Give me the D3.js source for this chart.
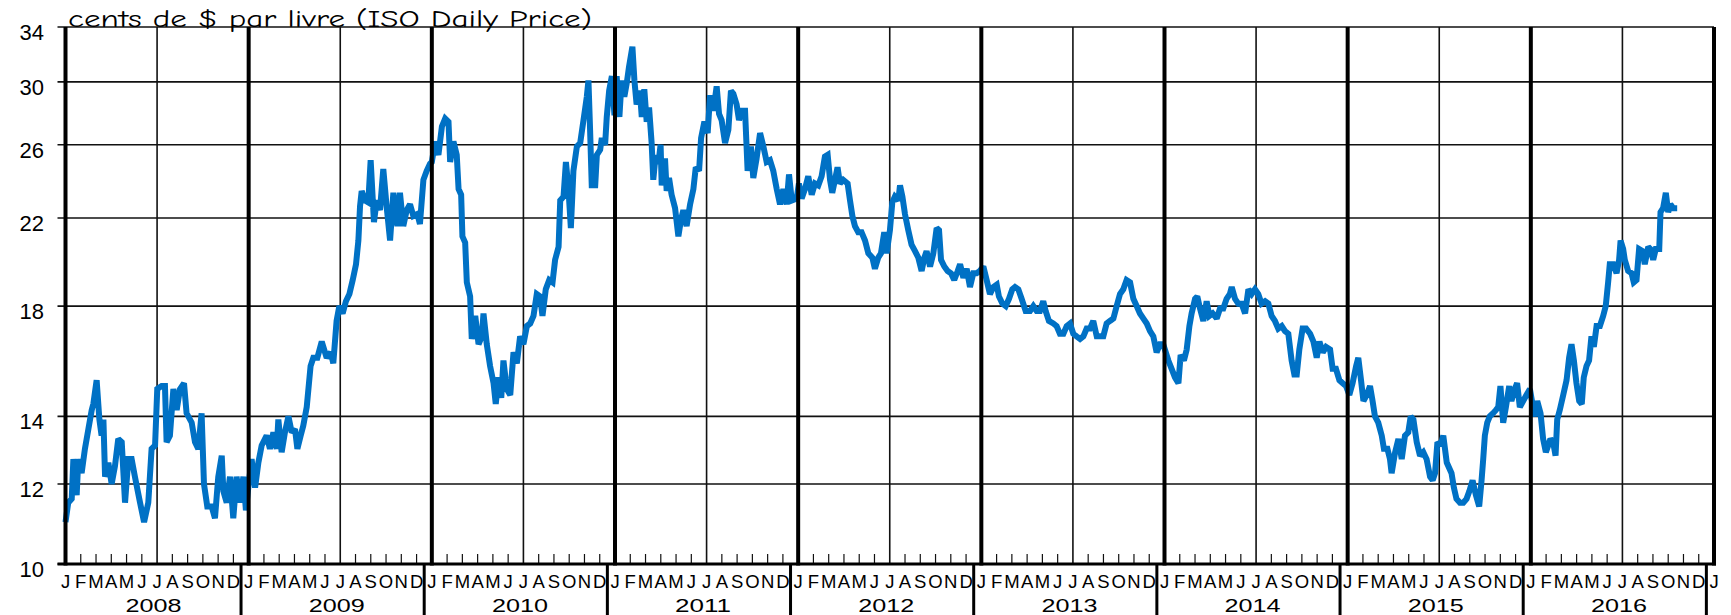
<!DOCTYPE html>
<html>
<head>
<meta charset="utf-8">
<script src="https://cdn.jsdelivr.net/npm/d3@7"></script>
<style>
  body { margin: 0; background: #fff; }
  svg { display: block; }
</style>
</head>
<body>
<svg id="chart" width="1731" height="615"></svg>
<script>
// ---------------- DATA ----------------
const titleText = "cents de $ par livre (ISO Daily Price)";
const yTicks = [10, 12, 14, 18, 22, 26, 30, 34];
const years = [2008, 2009, 2010, 2011, 2012, 2013, 2014, 2015, 2016];
const monthLetters = ["J", "F", "M", "A", "M", "J", "J", "A", "S", "O", "N", "D"];

// time as decimal year, price in US cents per lb
const t2008 = [2008.000,2008.015,2008.034,2008.043,2008.061,2008.070,2008.088,2008.106,2008.125,2008.143,2008.152,2008.170,2008.185,2008.197,2008.207,2008.216,2008.234,2008.252,2008.270,2008.288,2008.307,2008.325,2008.343,2008.361,2008.379,2008.407,2008.429,2008.452,2008.470,2008.489,2008.501,2008.525,2008.543,2008.552,2008.570,2008.589,2008.607,2008.625,2008.647,2008.661,2008.689,2008.707,2008.725,2008.743,2008.756,2008.774,2008.798,2008.816,2008.834,2008.853,2008.862,2008.880,2008.898,2008.916,2008.934,2008.953,2008.971,2008.985,2008.998];
const p2008 = [11.0,11.5,11.6,12.7,11.7,12.7,12.3,13.0,13.6,14.2,14.4,15.2,13.9,13.4,13.9,12.2,12.6,12.0,12.5,13.3,13.2,11.5,12.7,12.7,12.2,11.5,11.0,11.5,13.0,13.1,14.9,15.0,15.0,13.2,13.4,14.9,14.2,14.9,15.1,14.1,13.8,13.2,13.0,14.1,12.0,11.4,11.4,11.1,12.2,12.8,11.8,11.5,12.2,11.1,12.2,11.5,12.2,11.3,11.9];

const t2009 = [2009.016,2009.035,2009.053,2009.071,2009.098,2009.116,2009.135,2009.153,2009.162,2009.180,2009.198,2009.217,2009.235,2009.253,2009.266,2009.284,2009.298,2009.317,2009.338,2009.353,2009.375,2009.399,2009.426,2009.448,2009.462,2009.480,2009.495,2009.513,2009.531,2009.550,2009.568,2009.586,2009.599,2009.608,2009.617,2009.635,2009.653,2009.666,2009.684,2009.699,2009.717,2009.735,2009.753,2009.772,2009.790,2009.812,2009.826,2009.844,2009.863,2009.881,2009.899,2009.921,2009.935,2009.954,2009.972,2009.990];
const p2009 = [12.7,11.9,12.6,13.1,13.4,13.0,13.5,13.0,13.9,12.9,13.5,14.0,13.5,13.6,13.0,13.4,13.7,14.3,15.7,16.0,16.0,16.6,16.0,16.2,15.8,17.4,18.0,17.7,18.2,18.5,19.1,19.8,20.9,22.6,23.4,22.9,22.8,25.1,21.8,22.9,22.4,24.6,22.6,20.9,23.3,21.6,23.3,21.6,22.4,22.7,22.1,22.2,21.7,24.0,24.5,24.9];

const t2010 = [2010.000,2010.018,2010.036,2010.055,2010.073,2010.091,2010.100,2010.118,2010.136,2010.146,2010.160,2010.167,2010.182,2010.191,2010.209,2010.218,2010.237,2010.255,2010.273,2010.282,2010.300,2010.318,2010.337,2010.349,2010.364,2010.379,2010.391,2010.409,2010.428,2010.446,2010.464,2010.482,2010.500,2010.519,2010.537,2010.555,2010.573,2010.591,2010.604,2010.622,2010.641,2010.659,2010.673,2010.692,2010.701,2010.719,2010.732,2010.746,2010.759,2010.773,2010.792,2010.810,2010.828,2010.846,2010.855,2010.864,2010.873,2010.892,2010.901,2010.919,2010.928,2010.946,2010.955,2010.968,2010.983,2010.997];
const p2010 = [25.0,26.2,25.4,27.1,27.6,27.4,25.0,26.2,25.4,23.5,23.2,21.1,20.8,19.0,18.4,16.7,17.6,16.5,16.8,17.7,16.5,15.7,15.1,14.4,15.3,14.6,15.9,14.9,14.7,16.2,15.8,16.8,16.5,17.2,17.3,17.6,18.5,18.4,17.6,18.7,19.1,19.0,20.0,20.6,22.9,23.1,25.0,23.5,21.5,24.5,25.9,26.1,27.5,29.0,30.1,26.9,23.7,23.7,25.4,25.7,26.4,26.0,27.7,29.4,30.4,27.8];

const t2011 = [2011.009,2011.024,2011.036,2011.051,2011.064,2011.076,2011.095,2011.106,2011.118,2011.136,2011.146,2011.160,2011.173,2011.186,2011.200,2011.209,2011.222,2011.237,2011.249,2011.255,2011.273,2011.282,2011.295,2011.309,2011.328,2011.346,2011.360,2011.373,2011.391,2011.410,2011.428,2011.441,2011.459,2011.470,2011.488,2011.506,2011.519,2011.537,2011.555,2011.568,2011.582,2011.601,2011.619,2011.633,2011.646,2011.664,2011.677,2011.692,2011.710,2011.724,2011.742,2011.755,2011.773,2011.792,2011.810,2011.828,2011.846,2011.864,2011.883,2011.901,2011.919,2011.937,2011.950,2011.965,2011.992];
const p2011 = [30.4,27.7,30.1,29.0,29.9,31.0,32.5,30.1,28.5,29.4,27.7,29.5,27.4,28.3,26.1,24.0,25.4,24.9,26.0,23.7,25.2,23.4,24.1,23.2,22.5,21.1,21.9,22.4,21.6,22.7,23.5,24.7,24.5,26.4,27.4,26.7,29.1,28.1,29.7,27.9,27.5,26.1,26.9,29.4,29.2,28.5,27.5,28.1,28.1,24.5,25.9,24.1,25.2,26.7,25.9,25.0,25.1,24.5,23.5,22.7,23.5,22.7,24.3,22.9,23.0];

const t2012 = [2012.004,2012.019,2012.037,2012.055,2012.074,2012.092,2012.110,2012.128,2012.146,2012.161,2012.174,2012.186,2012.201,2012.215,2012.228,2012.246,2012.270,2012.283,2012.296,2012.310,2012.328,2012.346,2012.365,2012.383,2012.405,2012.419,2012.437,2012.452,2012.470,2012.483,2012.501,2012.514,2012.528,2012.547,2012.556,2012.569,2012.583,2012.601,2012.619,2012.638,2012.656,2012.674,2012.689,2012.701,2012.720,2012.738,2012.756,2012.769,2012.780,2012.798,2012.816,2012.834,2012.852,2012.871,2012.884,2012.902,2012.920,2012.938,2012.956,2012.974,2012.992];
const p2012 = [23.8,23.0,23.5,24.2,23.2,23.8,23.7,24.2,25.3,25.4,24.0,23.3,24.0,24.7,23.8,24.0,23.8,22.9,22.1,21.6,21.3,21.3,20.9,20.3,20.1,19.6,20.1,20.3,21.3,20.3,21.4,22.8,23.1,22.9,23.7,23.1,22.2,21.4,20.7,20.4,20.1,19.5,20.1,20.4,19.7,20.3,21.5,21.4,20.0,19.7,19.5,19.4,19.1,19.5,19.8,19.2,19.6,18.8,19.4,19.4,19.5];

const t2013 = [2013.011,2013.029,2013.047,2013.066,2013.084,2013.096,2013.115,2013.133,2013.151,2013.169,2013.184,2013.202,2013.220,2013.242,2013.266,2013.284,2013.302,2013.320,2013.338,2013.351,2013.369,2013.393,2013.411,2013.429,2013.448,2013.466,2013.484,2013.502,2013.520,2013.539,2013.557,2013.575,2013.593,2013.611,2013.630,2013.648,2013.666,2013.684,2013.702,2013.721,2013.739,2013.757,2013.775,2013.793,2013.812,2013.830,2013.848,2013.866,2013.884,2013.903,2013.921,2013.939,2013.957,2013.975,2013.993];
const p2013 = [19.7,19.1,18.5,18.8,18.9,18.4,18.1,18.0,18.3,18.7,18.8,18.7,18.3,17.8,17.8,18.0,17.8,17.8,18.2,17.8,17.4,17.3,17.2,16.9,16.9,17.2,17.3,16.9,16.8,16.7,16.8,17.1,17.1,17.4,16.8,16.8,16.8,17.3,17.4,17.5,18.0,18.5,18.7,19.1,19.0,18.3,18.0,17.7,17.5,17.3,17.0,16.8,16.2,16.5,16.5];

const t2014 = [2014.021,2014.039,2014.057,2014.076,2014.088,2014.106,2014.121,2014.136,2014.148,2014.167,2014.179,2014.194,2014.212,2014.230,2014.245,2014.263,2014.285,2014.303,2014.321,2014.339,2014.357,2014.367,2014.385,2014.403,2014.421,2014.440,2014.458,2014.476,2014.494,2014.512,2014.530,2014.549,2014.567,2014.585,2014.603,2014.621,2014.640,2014.658,2014.676,2014.694,2014.709,2014.722,2014.736,2014.754,2014.773,2014.795,2014.813,2014.831,2014.846,2014.864,2014.882,2014.904,2014.918,2014.936,2014.955,2014.973,2014.991];
const p2014 = [15.9,15.6,15.3,15.1,16.1,15.9,16.3,17.2,17.7,18.3,18.4,17.9,17.4,18.2,17.6,17.7,17.5,17.9,17.9,18.3,18.5,18.8,18.3,18.1,18.1,17.7,18.7,18.5,18.7,18.5,18.1,18.2,18.1,17.6,17.4,17.1,17.2,17.0,16.9,15.9,15.4,15.4,16.3,17.1,17.1,16.9,16.6,16.0,16.6,16.2,16.4,16.3,15.6,15.6,15.2,15.1,15.0];

const t2015 = [2015.009,2015.027,2015.046,2015.058,2015.073,2015.086,2015.104,2015.122,2015.136,2015.149,2015.167,2015.186,2015.198,2015.217,2015.231,2015.240,2015.259,2015.277,2015.295,2015.313,2015.331,2015.344,2015.359,2015.377,2015.395,2015.413,2015.431,2015.450,2015.464,2015.477,2015.490,2015.508,2015.522,2015.541,2015.567,2015.580,2015.594,2015.613,2015.631,2015.649,2015.664,2015.682,2015.700,2015.718,2015.731,2015.740,2015.749,2015.762,2015.776,2015.794,2015.809,2015.822,2015.834,2015.849,2015.864,2015.882,2015.894,2015.913,2015.925,2015.940,2015.958,2015.976,2015.995];
const p2015 = [14.7,15.1,15.7,16.0,15.2,14.5,14.7,15.0,14.5,14.0,13.8,13.4,13.0,13.0,12.7,12.3,12.9,13.3,12.7,13.4,13.5,14.0,13.9,13.2,12.8,12.9,12.7,12.2,12.1,12.3,13.2,13.1,13.4,12.6,12.3,11.9,11.6,11.5,11.5,11.6,11.8,12.1,11.7,11.4,12.1,12.7,13.4,13.8,14.0,14.1,14.2,14.3,15.0,13.8,14.3,15.0,14.5,14.9,15.1,14.3,14.5,14.7,14.9];

const t2016 = [2016.009,2016.022,2016.035,2016.053,2016.067,2016.082,2016.095,2016.107,2016.122,2016.135,2016.144,2016.158,2016.177,2016.195,2016.209,2016.222,2016.235,2016.249,2016.264,2016.278,2016.289,2016.304,2016.318,2016.331,2016.344,2016.359,2016.377,2016.395,2016.409,2016.422,2016.431,2016.450,2016.468,2016.482,2016.490,2016.504,2016.513,2016.531,2016.550,2016.562,2016.577,2016.591,2016.610,2016.622,2016.641,2016.653,2016.668,2016.682,2016.701,2016.708,2016.722,2016.737,2016.750,2016.762,2016.777,2016.799];
const p2016 = [14.4,14.0,14.5,14.1,13.3,12.9,13.1,13.3,13.2,12.8,13.9,14.2,14.7,15.2,16.0,16.5,15.9,15.1,14.5,14.4,15.3,15.7,15.9,16.8,16.4,17.2,17.2,17.6,18.0,19.0,19.8,19.8,19.4,20.0,20.9,20.5,20.0,19.5,19.4,19.0,19.1,20.5,20.4,19.8,20.6,20.5,20.0,20.5,20.5,22.3,22.5,23.3,22.3,22.7,22.5,22.5];

// ---------------- BUILD ----------------
const times = [].concat(t2008, t2009, t2010, t2011, t2012, t2013, t2014, t2015, t2016);
const prices = [].concat(p2008, p2009, p2010, p2011, p2012, p2013, p2014, p2015, p2016);
const series = times.map((d, i) => ({ t: d, v: prices[i] }));

const W = 1731, H = 615;
const x = d3.scaleLinear().domain([2008, 2017]).range([65.5, 1714]);
const y = d3.scaleLog().domain([10, 34]).range([564, 27]);
const halfMonth = (x(2009) - x(2008)) / 24;
const ink = "#111";

const svg = d3.select("#chart");
svg.append("rect").attr("width", W).attr("height", H).attr("fill", "#fff");

// horizontal grid lines (with left tick stubs)
svg.append("g").selectAll("line").data(yTicks).join("line")
  .attr("x1", x(2008) - 8).attr("x2", x(2017))
  .attr("y1", d => y(d)).attr("y2", d => y(d))
  .attr("stroke", ink).attr("stroke-width", 1.6);

// mid-year (July) vertical grid lines
svg.append("g").selectAll("line").data(years).join("line")
  .attr("x1", d => x(d + 0.5)).attr("x2", d => x(d + 0.5))
  .attr("y1", y(34)).attr("y2", y(10))
  .attr("stroke", ink).attr("stroke-width", 1.6);

// monthly minor ticks
const monthStarts = d3.range(0, 9 * 12).filter(i => i % 6 !== 0).map(i => 2008 + i / 12);
svg.append("g").selectAll("line").data(monthStarts).join("line")
  .attr("x1", d => x(d)).attr("x2", d => x(d))
  .attr("y1", y(10)).attr("y2", y(10) - 10)
  .attr("stroke", ink).attr("stroke-width", 1.2);

// data line
svg.append("path").datum(series)
  .attr("fill", "none")
  .attr("stroke", "#0071c5")
  .attr("stroke-width", 6)
  .attr("stroke-linejoin", "miter")
  .attr("stroke-miterlimit", 2)
  .attr("d", d3.line().x(d => x(d.t)).y(d => y(d.v)));

// year boundary thick lines
svg.append("g").selectAll("line").data(d3.range(2008, 2018)).join("line")
  .attr("x1", d => x(d)).attr("x2", d => x(d))
  .attr("y1", y(34)).attr("y2", y(10) + 1.5)
  .attr("stroke", "#000").attr("stroke-width", 4);

// bottom axis line
svg.append("line")
  .attr("x1", x(2008) - 8).attr("x2", x(2017) + 2)
  .attr("y1", y(10)).attr("y2", y(10))
  .attr("stroke", "#000").attr("stroke-width", 3);

// y labels
svg.append("g").selectAll("text").data(yTicks).join("text")
  .attr("x", 44).attr("y", d => y(d) + 13)
  .attr("text-anchor", "end")
  .attr("font-family", "'Liberation Sans', Arial, sans-serif")
  .attr("font-size", 22)
  .attr("fill", "#000")
  .text(d => d3.format("d")(d));

// month letters
const monthLabelIdx = d3.range(0, 9 * 12 + 1);
svg.append("g").selectAll("text").data(monthLabelIdx).join("text")
  .attr("x", i => x(2008 + i / 12)).attr("y", 588)
  .attr("text-anchor", "middle")
  .attr("font-family", "'Liberation Sans', Arial, sans-serif")
  .attr("font-size", 18.5)
  .attr("fill", "#000")
  .text(i => monthLetters[i % 12]);

// year separators below axis
svg.append("g").selectAll("line").data(d3.range(2009, 2018)).join("line")
  .attr("x1", d => x(d) - halfMonth).attr("x2", d => x(d) - halfMonth)
  .attr("y1", y(10)).attr("y2", H)
  .attr("stroke", "#000").attr("stroke-width", 3);

// year labels
svg.append("g").selectAll("text").data(years).join("text")
  .attr("x", d => x(d + 0.5) - 3.5).attr("y", 611.5)
  .attr("text-anchor", "middle")
  .attr("font-family", "'Liberation Sans', Arial, sans-serif")
  .attr("font-size", 19)
  .attr("textLength", 56)
  .attr("lengthAdjust", "spacingAndGlyphs")
  .attr("fill", "#000")
  .text(d => d);

// title
svg.append("text")
  .attr("x", 68).attr("y", 26.5)
  .attr("font-family", "'Comic Sans MS', 'Comic Neue', Lato, sans-serif")
  .attr("font-size", 25)
  .attr("textLength", 524)
  .attr("lengthAdjust", "spacingAndGlyphs")
  .attr("fill", "#000")
  .text(titleText);
</script>
</body>
</html>
